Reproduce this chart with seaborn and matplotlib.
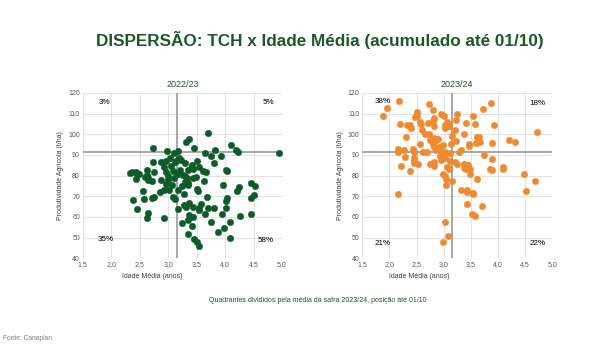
import matplotlib
matplotlib.use("Agg")
import matplotlib.pyplot as plt
import seaborn as sns
import pandas as pd

# ---- data ----
idade_2223 = [3.70, 3.36, 3.31, 4.10, 2.73, 3.46, 4.19, 4.23, 2.98, 3.18, 3.10, 3.83, 3.64, 4.94,
              3.76, 3.92, 3.03, 3.19, 3.22, 3.14, 2.97, 2.87, 2.74, 3.12, 3.29, 3.51, 3.81, 3.67,
              3.42, 3.40, 3.44, 3.54, 3.35, 3.21, 3.15, 3.08, 2.97, 2.76, 2.62, 2.37, 2.43, 2.49,
              2.62, 2.59, 2.64, 2.64, 2.44, 4.01, 4.04, 3.17, 3.26, 3.30, 3.34, 3.44, 3.49, 2.99,
              2.99, 2.88, 2.97, 3.07, 3.24, 3.35, 3.35, 3.63, 3.97, 4.45, 4.53, 4.24, 4.21, 3.50,
              3.52, 3.17, 3.01, 2.92, 2.55, 2.39, 2.58, 2.71, 2.75, 3.08, 3.12, 3.27, 3.69, 4.03,
              4.02, 4.45, 4.50, 2.45, 2.65, 2.63, 2.93, 3.17, 3.27, 3.31, 3.36, 3.43, 3.57, 3.55,
              3.54, 3.70, 3.81, 4.01, 3.65, 3.36, 3.44, 3.25, 3.35, 3.42, 3.76, 4.08, 4.27, 3.95,
              4.46, 3.99, 3.88, 3.35, 3.46, 4.09, 3.50, 3.54, 2.46, 2.93, 3.11, 3.30, 3.62, 2.71,
              3.05, 2.33, 2.86]
tch_2223 = [100.8, 97.7, 96.3, 95.0, 93.5, 93.5, 92.2, 91.2, 92.1, 91.9, 91.1, 92.2, 90.9, 90.8,
            89.3, 89.3, 88.7, 88.3, 87.7, 87.2, 87.0, 86.7, 86.7, 86.6, 86.1, 87.0, 85.9, 81.6,
            84.9, 83.8, 83.2, 84.1, 82.5, 82.5, 81.4, 82.0, 81.6, 81.6, 82.5, 81.6, 81.6, 80.9,
            80.1, 79.3, 78.6, 77.7, 78.3, 82.5, 82.0, 80.6, 80.1, 79.6, 79.0, 79.0, 79.3, 79.6,
            78.0, 77.7, 76.1, 75.6, 75.0, 75.3, 76.4, 77.2, 75.3, 76.5, 74.8, 74.6, 72.5, 73.6,
            72.5, 72.8, 73.1, 72.8, 72.3, 68.0, 68.8, 69.3, 69.6, 69.6, 68.5, 70.9, 69.6, 69.3,
            67.8, 69.1, 70.4, 63.9, 62.0, 59.6, 59.6, 63.9, 65.6, 64.7, 66.8, 64.7, 66.4, 64.3,
            63.1, 64.4, 64.4, 64.3, 61.2, 61.0, 59.9, 57.2, 58.3, 55.7, 57.5, 57.5, 60.4, 61.2,
            61.2, 54.6, 52.8, 51.5, 49.4, 49.7, 47.6, 45.9, 80.9, 84.1, 78.8, 76.7, 82.3, 77.5,
            84.5, 81.3, 72.0]

idade_2324 = [2.17, 1.95, 1.88, 2.72, 3.87, 3.73, 2.80, 2.51, 2.51, 2.95, 3.00, 3.24, 3.54, 2.47,
              2.83, 3.23, 2.57, 2.71, 2.80, 2.58, 2.20, 2.33, 2.37, 2.39, 2.83, 3.02, 3.06, 3.09,
              3.10, 3.03, 3.41, 3.58, 3.92, 3.21, 2.60, 2.72, 2.66, 3.37, 4.71, 2.31, 3.15, 2.83,
              2.90, 2.75, 2.86, 3.22, 3.14, 3.61, 3.65, 3.59, 3.67, 4.21, 4.32, 3.88, 3.46, 3.46,
              2.56, 2.81, 2.83, 2.94, 2.91, 2.99, 2.62, 2.70, 2.85, 2.15, 2.15, 2.27, 2.44, 2.45,
              3.03, 3.12, 3.29, 3.31, 2.94, 2.29, 2.45, 3.02, 3.75, 3.88, 3.21, 3.25, 2.53, 2.46,
              2.74, 2.83, 2.83, 3.11, 2.95, 3.37, 3.45, 3.37, 3.41, 3.48, 3.06, 3.09, 3.86, 3.89,
              4.09, 4.09, 2.38, 2.98, 3.02, 3.05, 3.49, 3.61, 4.47, 3.15, 4.68, 4.52, 3.31, 3.42,
              3.43, 3.54, 3.54, 3.04, 2.15, 3.43, 3.71, 3.52, 3.57, 3.02, 3.07, 2.99, 2.21, 2.45]
tch_2324 = [116.0, 112.9, 108.7, 114.8, 115.2, 112.2, 111.8, 110.6, 109.0, 110.0, 108.7, 110.0,
            109.0, 108.4, 107.9, 107.1, 105.9, 105.6, 106.3, 104.8, 104.8, 104.7, 104.7, 103.0,
            103.8, 104.7, 105.9, 105.1, 103.8, 103.2, 105.5, 105.1, 104.3, 102.2, 101.9, 100.3,
            100.3, 100.0, 101.0, 98.7, 99.3, 98.4, 97.6, 97.4, 97.4, 96.6, 95.4, 98.8, 98.8, 95.8,
            96.3, 97.2, 96.3, 95.9, 95.1, 94.5, 95.1, 95.1, 93.8, 92.5, 93.7, 94.8, 91.6, 91.6,
            92.5, 92.9, 91.6, 92.2, 93.0, 91.6, 91.4, 91.1, 91.6, 92.5, 89.3, 88.8, 88.7, 88.7,
            90.0, 88.2, 86.4, 85.8, 85.6, 86.9, 85.6, 84.8, 86.7, 87.0, 87.7, 85.4, 85.3, 83.5,
            83.3, 83.3, 84.1, 83.0, 83.3, 82.8, 84.1, 83.3, 82.0, 80.7, 79.6, 78.5, 80.6, 78.2,
            80.6, 77.2, 77.5, 72.5, 73.2, 73.2, 71.9, 71.8, 71.3, 75.6, 70.9, 66.0, 65.4, 61.4,
            60.4, 57.6, 50.7, 47.8, 84.5, 85.9]

media_idade = 3.16
media_tch = 91.6

quad_2223 = ["3%", "5%", "35%", "58%"]
quad_2324 = ["38%", "18%", "21%", "22%"]

xticks = [1.5, 2.0, 2.5, 3.0, 3.5, 4.0, 4.5, 5.0]
yticks = [40, 50, 60, 70, 80, 90, 100, 110, 120]

GREEN_TXT = "#1a5a28"
GREEN_DOT = "#0d5a2a"
ORANGE_DOT = "#f08a30"

sns.set_theme(style="white")
plt.rcParams["font.family"] = ["Liberation Sans", "DejaVu Sans"]

fig = plt.figure(figsize=(6.13, 3.47), dpi=100)

def panel(rect, x, y, color, title, quads, qpos, xlab_pos):
    ax = fig.add_axes(rect)
    df = pd.DataFrame({"x": x, "y": y})
    ax.axvline(media_idade, color="#a0a0a0", lw=1.3, zorder=1)
    ax.axhline(media_tch, color="#a0a0a0", lw=1.3, zorder=1)
    sns.scatterplot(data=df, x="x", y="y", ax=ax, color=color, s=22,
                    edgecolor=color, linewidth=0.3, zorder=3, legend=False)
    ax.set_xlim(1.5, 5.0)
    ax.set_ylim(40, 120)
    ax.set_xticks(xticks)
    ax.set_yticks(yticks)
    ax.set_xticklabels([f"{v:.1f}".replace(".", ",") for v in xticks])
    ax.set_yticklabels([str(v) for v in yticks])
    ax.tick_params(axis="both", labelsize=5, colors="#595959", length=0, pad=2)
    ax.grid(True, color="#e3e3e3", lw=0.8, zorder=0)
    ax.set_axisbelow(True)
    for s in ax.spines.values():
        s.set_visible(False)
    ax.set_xlabel("Idade Média (anos)", fontsize=5, color="#404040", labelpad=2)
    ax.xaxis.set_label_coords(xlab_pos, -0.09)
    ax.set_ylabel("Produtividade Agrícola (t/ha)", fontsize=5, color="#404040", labelpad=3)
    ax.set_title(title, fontsize=6.5, color=GREEN_TXT, pad=4)
    kw = dict(fontsize=5.8, color="black", transform=ax.transAxes, va="center", ha="center")
    for label, (qx, qy) in zip(quads, qpos):
        ax.text(qx, qy, label, **kw)
    return ax

panel([0.135, 0.256, 0.325, 0.476], idade_2223, tch_2223, GREEN_DOT, "2022/23", quad_2223,
      [(0.108, 0.94), (0.93, 0.94), (0.115, 0.11), (0.92, 0.105)], 0.35)
panel([0.591, 0.256, 0.310, 0.476], idade_2324, tch_2324, ORANGE_DOT, "2023/24", quad_2324,
      [(0.105, 0.95), (0.92, 0.935), (0.105, 0.09), (0.925, 0.09)], 0.30)

fig.text(0.522, 0.885, "DISPERSÃO: TCH x Idade Média (acumulado até 01/10)",
         fontsize=12.3, fontweight="bold", color=GREEN_TXT, ha="center", va="center")
fig.text(0.518, 0.135, "Quadrantes divididos pela média da safra 2023/24, posição até 01/10",
         fontsize=5, color=GREEN_TXT, ha="center", va="center")
fig.text(0.005, 0.025, "Fonte: Canaplan", fontsize=4.8, color="#808080", ha="left", va="center")

fig.savefig("out.png", dpi=100, facecolor="white")
